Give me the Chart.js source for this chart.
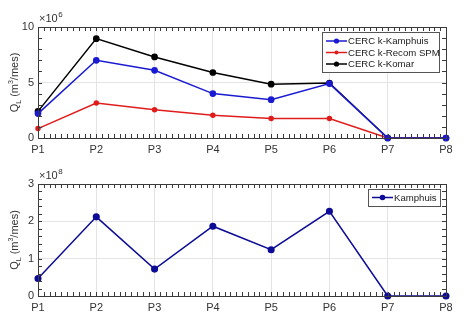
<!DOCTYPE html>
<html><head><meta charset="utf-8">
<script src="https://cdn.jsdelivr.net/npm/chart.js@4"></script>
<style>
html,body{margin:0;padding:0;background:#fff;width:474px;height:329px;overflow:hidden}
canvas{position:absolute;left:0}
#c1{top:0}#c2{top:160px}
</style></head><body>
<canvas id="c1" width="474" height="160"></canvas>
<canvas id="c2" width="474" height="169"></canvas>
<script>
const categories = ['P1','P2','P3','P4','P5','P6','P7','P8'];
// top panel, units of 10^6 m3/mes
const kamphuisTop = [2.2, 7.0, 6.1, 4.0, 3.45, 4.9, 0, 0];
const recomSPM    = [0.85, 3.15, 2.55, 2.05, 1.75, 1.75, 0, 0];
const komar       = [2.4, 8.95, 7.3, 5.9, 4.85, 4.95, 0, 0];
// bottom panel, units of 10^8 m3/mes
const kamphuisBottom = [0.47, 2.12, 0.72, 1.87, 1.24, 2.27, 0, 0];
const topYTicks = [0, 5, 10];
const bottomYTicks = [0, 1, 2, 3];

const FONT = "'Liberation Sans', Arial, sans-serif";
const TXT = '#333';

const boxPlugin = {
  id: 'boxPlugin',
  afterDatasetsDraw(chart, args, o) {
    const {ctx, chartArea: a, scales: {x, y}} = chart;
    ctx.save();
    ctx.strokeStyle = '#3a3a3a';
    ctx.lineWidth = 1;
    ctx.beginPath();
    const nx = (categories.length - 1) * 10;
    for (let i = 0; i <= nx; i++) {
      const px = Math.round(x.getPixelForValue(i / 10)) + 0.5;
      const L = 4;
      ctx.moveTo(px, a.bottom); ctx.lineTo(px, a.bottom - L);
      ctx.moveTo(px, a.top); ctx.lineTo(px, a.top + L);
    }
    const yMax = o.yMax, step = o.minor;
    for (let k = 0; k * step <= yMax + 1e-9; k++) {
      const py = Math.round(y.getPixelForValue(k * step)) + 0.5;
      const L = 4;
      ctx.moveTo(a.left, py); ctx.lineTo(a.left + L, py);
      ctx.moveTo(a.right, py); ctx.lineTo(a.right - L, py);
    }
    ctx.stroke();
    ctx.strokeRect(Math.round(a.left) + 0.5, Math.round(a.top) + 0.5,
      Math.round(a.right - a.left), Math.round(a.bottom - a.top));

    // exponent
    ctx.fillStyle = TXT;
    ctx.textBaseline = 'alphabetic';
    ctx.textAlign = 'left';
    ctx.font = '11px ' + FONT;
    const ex = a.left + 1, ey = a.top - 5;
    ctx.fillText('\u00d710', ex, ey);
    const w = ctx.measureText('\u00d710').width;
    ctx.font = '8px ' + FONT;
    ctx.fillText(o.exp, ex + w + 0.5, ey - 5);

    // y title
    const parts = [['Q', 11, 0], ['L', 7, 3], [' (m', 11, 0], ['3', 7, -5], ['/mes)', 11, 0]];
    let total = 0;
    parts.forEach(p => { ctx.font = p[1] + 'px ' + FONT; p.push(ctx.measureText(p[0]).width); total += p[3]; });
    ctx.translate(o.titleX, (a.top + a.bottom) / 2);
    ctx.rotate(-Math.PI / 2);
    let cx = -total / 2;
    parts.forEach(p => {
      ctx.font = p[1] + 'px ' + FONT;
      ctx.fillText(p[0], cx, 4 + p[2]);
      cx += p[3];
    });
    ctx.setTransform(1, 0, 0, 1, 0, 0);

    // legend
    const lg = o.legend;
    ctx.fillStyle = '#fff';
    ctx.fillRect(lg.x, lg.y, lg.w, lg.h);
    ctx.strokeStyle = '#555';
    ctx.strokeRect(lg.x + 0.5, lg.y + 0.5, lg.w, lg.h);
    chart.data.datasets.forEach((ds, i) => {
      const ly = lg.y + lg.first + i * lg.gap;
      ctx.strokeStyle = ds.borderColor;
      ctx.lineWidth = 1.5;
      ctx.beginPath();
      ctx.moveTo(lg.x + 4, ly); ctx.lineTo(lg.x + 25, ly);
      ctx.stroke();
      ctx.fillStyle = ds.pointBackgroundColor;
      ctx.beginPath();
      ctx.arc(lg.x + 14.5, ly, ds.pointRadius, 0, Math.PI * 2);
      ctx.fill();
      ctx.fillStyle = '#222';
      ctx.font = '9.6px ' + FONT;
      ctx.textBaseline = 'middle';
      ctx.fillText(ds.label, lg.x + 26, ly + 0.5);
    });
    ctx.restore();
  }
};

function makeDs(label, data, color, r) {
  return {label, data, borderColor: color, backgroundColor: color,
    pointBackgroundColor: color, pointBorderColor: color, pointRadius: r,
    pointHoverRadius: r, borderWidth: 1.5, tension: 0, clip: false};
}

function makeChart(id, datasets, yTicks, opts) {
  const yMax = yTicks[yTicks.length - 1];
  return new Chart(document.getElementById(id), {
    type: 'line',
    data: {labels: categories, datasets},
    options: {
      responsive: false, animation: false, devicePixelRatio: 1,
      layout: {padding: {left: 0, right: 28, top: opts.padTop, bottom: 0}},
      plugins: {legend: {display: false}, tooltip: {enabled: false}, boxPlugin: {
        yMax, minor: opts.minor, exp: opts.exp, titleX: 14, legend: opts.legend}},
      scales: {
        x: {
          offset: false,
          grid: {color: '#e4e4e4', drawTicks: false, lineWidth: 1},
          border: {display: false},
          ticks: {color: TXT, font: {family: FONT, size: 11}, padding: 5, maxRotation: 0, autoSkip: false},
          afterFit: s => { s.height = opts.xH; }
        },
        y: {
          min: 0, max: yMax,
          afterBuildTicks: s => { s.ticks = yTicks.map(v => ({value: v})); },
          grid: {color: '#e4e4e4', drawTicks: false, lineWidth: 1},
          border: {display: false},
          ticks: {color: TXT, font: {family: FONT, size: 11}, padding: 4},
          afterFit: s => { s.width = 38; }
        }
      }
    },
    plugins: [boxPlugin]
  });
}

makeChart('c1', [
  makeDs('CERC k-Kamphuis', kamphuisTop, '#1a1ad2', 2.6),
  makeDs('CERC k-Recom SPM', recomSPM, '#e01c1c', 2.0),
  makeDs('CERC k-Komar', komar, '#000000', 2.6)
], topYTicks, {padTop: 27, xH: 22, minor: 1, exp: '6',
  legend: {x: 322, y: 32, w: 117, h: 40, first: 9, gap: 11.5}});

makeChart('c2', [
  makeDs('Kamphuis', kamphuisBottom, '#0c0c96', 2.8)
], bottomYTicks, {padTop: 24, xH: 33, minor: 0.2, exp: '8',
  legend: {x: 368, y: 29, w: 72, h: 17, first: 8.5, gap: 0}});
</script>
</body></html>
